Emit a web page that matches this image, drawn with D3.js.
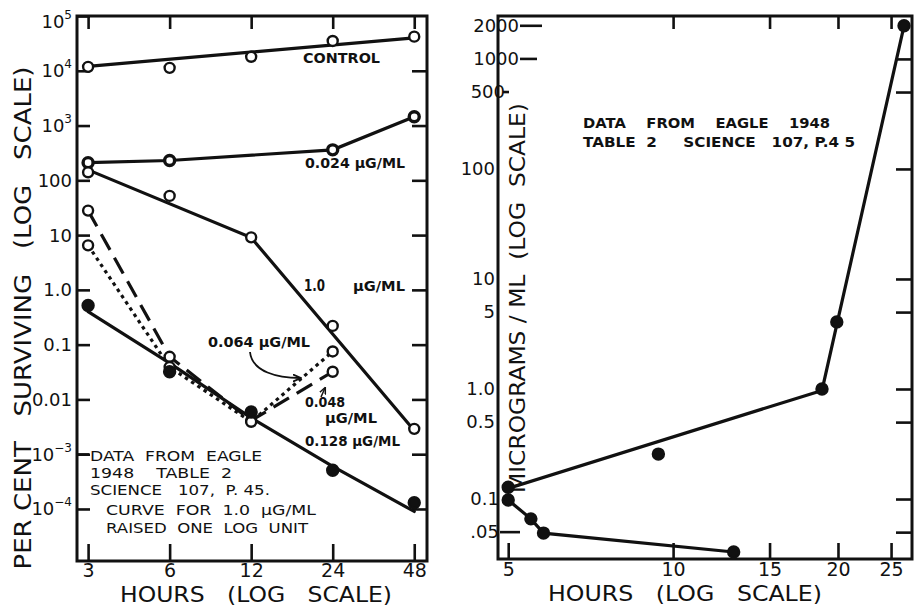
<!DOCTYPE html>
<html><head><meta charset="utf-8">
<script src="https://cdn.jsdelivr.net/npm/d3@7"></script>
<style>
body{margin:0;background:#fff}
text{font-family:"DejaVu Sans","Liberation Sans",sans-serif;fill:#111;white-space:pre}
</style>
</head><body><svg id="c" width="918" height="606"></svg>
<script>
// ---------- data: left panel (per cent surviving vs hours) ----------
const leftHourTicks = [3, 6, 12, 24, 48];
const leftYTicks = [1e5, 1e4, 1e3, 100, 10, 1, 0.1, 0.01, 1e-3, 1e-4];
const leftYTickLabels = ["10^5", "10^4", "10^3", "100", "10", "1.0", "0.1", "0.01", "10^−3", "10^−4"];

const controlHours = [3, 6, 12, 24, 48];
const controlValues = [1.18e4, 1.13e4, 1.8e4, 3.5e4, 4.2e4];
const controlFitHours = [3, 48];
const controlFitValues = [1.2e4, 4.0e4];

const ug024Hours = [3, 6, 24, 48];
const ug024Values = [210, 230, 360, 1450];

const ug10Hours = [3, 6, 12, 24, 48];
const ug10Values = [140, 52, 9.1, 0.22, 0.0029];
const ug10FitHours = [3, 12, 48];
const ug10FitValues = [155, 9, 0.0027];

const ug048Hours = [3, 6, 12, 24];
const ug048Values = [28, 0.06, 0.0041, 0.032];

const ug064Hours = [3, 6, 12, 24];
const ug064Values = [6.5, 0.039, 0.0039, 0.075];

const ug128Hours = [3, 6, 12, 24, 48];
const ug128Values = [0.52, 0.032, 0.0059, 0.00051, 0.00013];
const ug128FitHours = [3, 6, 12, 24, 48];
const ug128FitValues = [0.4, 0.046, 0.0046, 0.0006, 0.00009];

// ---------- data: right panel (micrograms/ml vs hours) ----------
const rightHourTicks = [5, 10, 15, 20, 25];
const rightYTicks = [2000, 1000, 500, 100, 10, 5, 1, 0.5, 0.1, 0.05];
const rightYTickLabels = ["2000", "1000", "500", "100", "10", "5", "1.0", "0.5", "0.1", ".05"];

const upperHours = [5, 9.4, 18.7, 19.9, 26.4];
const upperValues = [0.128, 0.256, 1.0, 4.07, 2000];
const upperFitHours = [5, 18.7, 26.4];
const upperFitValues = [0.125, 0.97, 2000];

const lowerHours = [5, 5.5, 5.8, 12.9];
const lowerValues = [0.098, 0.066, 0.049, 0.033];

// ---------- drawing ----------
const svg = d3.select("#c");
const ink = "#111";
const zip = (a, b) => a.map((v, i) => [v, b[i]]);

const xL = d3.scaleLog().domain([2.73, 53.5]).range([77, 427]);
const yL = d3.scaleLog().domain([Math.pow(10, -4.95), 1e5]).range([561, 16]);
const xR = d3.scaleLog().domain([4.79, 27.3]).range([498, 912]);
const yR = d3.scaleLog().domain([0.0285, 2455]).range([559, 16]);

const lineL = d3.line().x(d => xL(d[0])).y(d => yL(d[1]));
const lineR = d3.line().x(d => xR(d[0])).y(d => yR(d[1]));

function path(gen, pts, dash) {
  svg.append("path").attr("d", gen(pts)).attr("fill", "none")
    .attr("stroke", ink).attr("stroke-width", 3.2)
    .attr("stroke-linecap", dash ? "butt" : "round")
    .attr("stroke-dasharray", dash || null);
}
function dots(xs, ys, hours, vals, filled, sw) {
  svg.append("g").selectAll("circle").data(zip(hours, vals)).join("circle")
    .attr("cx", d => xs(d[0])).attr("cy", d => ys(d[1]))
    .attr("r", filled ? 5.5 : 5)
    .attr("fill", filled ? ink : "#fff")
    .attr("stroke", ink).attr("stroke-width", sw || 2.4);
}
function clean(g) { g.select(".domain").remove(); g.selectAll("line").attr("stroke", ink).attr("stroke-width", 2.6); }

// ---- left panel axes ----
let g = svg.append("g").attr("transform", "translate(0,561)")
  .call(d3.axisBottom(xL).tickValues(leftHourTicks).tickSize(-17).tickPadding(2).tickFormat(d3.format("d")));
clean(g); g.selectAll("text").attr("font-size", 19).attr("fill", ink);
g = svg.append("g").attr("transform", "translate(0,16)")
  .call(d3.axisTop(xL).tickValues(leftHourTicks).tickSize(-13).tickFormat(""));
clean(g);
g = svg.append("g").attr("transform", "translate(77,0)")
  .call(d3.axisLeft(yL).tickValues(leftYTicks).tickSize(-13).tickPadding(5).tickFormat(""));
clean(g);
g.selectAll(".tick").append("text").attr("x", -5).attr("y", d => d >= 1e5 ? 11 : 6)
  .attr("text-anchor", "end").attr("font-size", 18).attr("fill", ink)
  .each(function (d, i) {
    const parts = leftYTickLabels[i].split("^");
    const t = d3.select(this);
    t.append("tspan").text(parts[0]);
    if (parts[1]) t.append("tspan").attr("font-size", 12).attr("dy", -9).text(parts[1]);
  });
g = svg.append("g").attr("transform", "translate(427,0)")
  .call(d3.axisRight(yL).tickValues(leftYTicks.slice(1)).tickSize(-15).tickFormat(""));
clean(g);
svg.append("rect").attr("x", 77).attr("y", 16).attr("width", 350).attr("height", 545)
  .attr("fill", "none").attr("stroke", ink).attr("stroke-width", 3);

// ---- left panel series ----
path(lineL, zip(controlFitHours, controlFitValues));
path(lineL, zip(ug024Hours, ug024Values));
path(lineL, zip(ug10FitHours, ug10FitValues));
path(lineL, zip(ug048Hours, ug048Values), "18,9");
path(lineL, zip(ug064Hours, ug064Values), "3.5,4");
path(lineL, zip(ug128FitHours, ug128FitValues));
dots(xL, yL, controlHours, controlValues, false);
dots(xL, yL, ug024Hours, ug024Values, false, 3.4);
dots(xL, yL, ug10Hours, ug10Values, false);
dots(xL, yL, ug048Hours, ug048Values, false);
dots(xL, yL, ug064Hours, ug064Values, false);
dots(xL, yL, ug128Hours, ug128Values, true);

// ---- left panel labels ----
function label(txt, x, y, size, len, weight) {
  const t = svg.append("text").attr("x", x).attr("y", y).attr("font-size", size)
    .attr("xml:space", "preserve")
    .attr("font-weight", weight || "bold").text(txt);
  if (len) t.attr("textLength", len).attr("lengthAdjust", "spacingAndGlyphs");
  return t;
}
label("CONTROL", 303, 63, 14, 77);
label("0.024 μG/ML", 305, 168, 14, 100);
label("1.0", 304, 291, 15, 21);
label("μG/ML", 353, 291, 14, 52);
label("0.064 μG/ML", 208, 347, 14, 102);
label("0.048", 305, 407, 14, 40);
label("μG/ML", 325, 423, 14, 52);
label("0.128 μG/ML", 305, 446, 14, 95);
label("DATA  FROM  EAGLE", 90, 461, 14, 172, "normal");
label("1948    TABLE  2", 90, 478, 14, 142, "normal");
label("SCIENCE   107,  P. 45.", 90, 495, 14, 180, "normal");
label("CURVE  FOR  1.0  μG/ML", 106, 515, 14, 210, "normal");
label("RAISED  ONE  LOG  UNIT", 106, 533, 14, 202, "normal");
// connector from 10^-3 tick to text
svg.append("line").attr("x1", 77).attr("x2", 89).attr("y1", yL(1e-3)).attr("y2", yL(1e-3))
  .attr("stroke", ink).attr("stroke-width", 2);

// arrows
svg.append("defs").append("marker").attr("id", "ah").attr("viewBox", "0 0 10 10")
  .attr("refX", 8).attr("refY", 5).attr("markerWidth", 5).attr("markerHeight", 5)
  .attr("orient", "auto").append("path").attr("d", "M0,1 L9,5 L0,9").attr("fill", "none")
  .attr("stroke", ink).attr("stroke-width", 2);
svg.append("path").attr("d", "M250,352 C252,372 278,378 300,378").attr("fill", "none")
  .attr("stroke", ink).attr("stroke-width", 1.8).attr("marker-end", "url(#ah)");
svg.append("path").attr("d", "M321,397 L325,388").attr("fill", "none")
  .attr("stroke", ink).attr("stroke-width", 1.5).attr("marker-end", "url(#ah)");

// axis titles left
svg.append("text").attr("transform", "translate(31,318) rotate(-90)").attr("text-anchor", "middle")
  .attr("xml:space", "preserve")
  .attr("font-size", 23).attr("textLength", 503).attr("lengthAdjust", "spacingAndGlyphs")
  .text("PER CENT   SURVIVING   (LOG   SCALE)");
svg.append("text").attr("x", 256).attr("y", 602).attr("text-anchor", "middle")
  .attr("xml:space", "preserve")
  .attr("font-size", 21).attr("textLength", 272).attr("lengthAdjust", "spacingAndGlyphs")
  .text("HOURS   (LOG   SCALE)");

// ---- right panel axes ----
g = svg.append("g").attr("transform", "translate(0,559)")
  .call(d3.axisBottom(xR).tickValues(rightHourTicks).tickSize(-16).tickPadding(3).tickFormat(d3.format("d")));
clean(g); g.selectAll("text").attr("font-size", 19).attr("fill", ink);
g = svg.append("g").attr("transform", "translate(0,16)")
  .call(d3.axisTop(xR).tickValues(rightHourTicks.slice(1)).tickSize(-13).tickFormat(""));
clean(g);
g = svg.append("g").attr("transform", "translate(912,0)")
  .call(d3.axisRight(yR).tickValues(rightYTicks.slice(1)).tickSize(-16).tickFormat(""));
clean(g);
g = svg.append("g").attr("transform", "translate(498,0)")
  .call(d3.axisLeft(yR).tickValues(rightYTicks).tickSize(0).tickPadding(3)
    .tickFormat((d, i) => rightYTickLabels[i]));
g.select(".domain").remove();
g.selectAll("text").attr("font-size", 18).attr("fill", ink)
  .attr("x", d => d >= 1000 ? 21 : d >= 500 ? 7 : d === 0.1 || d === 0.05 ? 1 : -3);
// inward left ticks (hand-drawn style)
const leftTickLen = d => d >= 2000 ? [520, 542] : d >= 1000 ? [520, 537] : d >= 500 ? [503, 509] : [500, 520];
svg.append("g").selectAll("line").data([2000, 1000, 500, 0.05]).join("line")
  .attr("x1", d => leftTickLen(d)[0]).attr("x2", d => leftTickLen(d)[1])
  .attr("y1", d => yR(d)).attr("y2", d => yR(d)).attr("stroke", ink).attr("stroke-width", 2.6);
svg.append("rect").attr("x", 498).attr("y", 16).attr("width", 414).attr("height", 543)
  .attr("fill", "none").attr("stroke", ink).attr("stroke-width", 3);

// ---- right panel series ----
path(lineR, zip(upperFitHours, upperFitValues));
path(lineR, zip(lowerHours, lowerValues));
dots(xR, yR, upperHours, upperValues, true);
dots(xR, yR, lowerHours, lowerValues, true);

label("DATA    FROM    EAGLE    1948", 583, 128, 14, 247);
label("TABLE  2     SCIENCE   107, P.4 5", 583, 147, 14, 272);

svg.append("text").attr("transform", "translate(525,298) rotate(-90)").attr("text-anchor", "middle")
  .attr("xml:space", "preserve")
  .attr("font-size", 22).attr("textLength", 390).attr("lengthAdjust", "spacingAndGlyphs")
  .text("MICROGRAMS / ML  (LOG  SCALE)");
svg.append("text").attr("x", 685).attr("y", 601).attr("text-anchor", "middle")
  .attr("xml:space", "preserve")
  .attr("font-size", 21).attr("textLength", 274).attr("lengthAdjust", "spacingAndGlyphs")
  .text("HOURS   (LOG   SCALE)");
</script></body></html>
